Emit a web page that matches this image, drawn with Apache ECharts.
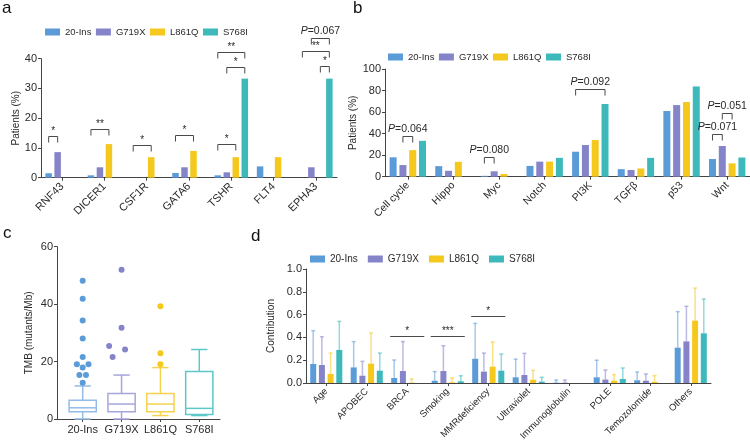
<!DOCTYPE html>
<html><head><meta charset="utf-8">
<script src="https://cdn.jsdelivr.net/npm/echarts@6/dist/echarts.min.js"></script>
<style>html,body{margin:0;padding:0;background:#fff}#chart{width:750px;height:440px}</style>
</head><body><div id="chart"></div>
<script>
// ---------- data ----------
const groups = ['20-Ins', 'G719X', 'L861Q', 'S768I'];

// panel a : genes (% patients)
const genesA = ['RNF43', 'DICER1', 'CSF1R', 'GATA6', 'TSHR', 'FLT4', 'EPHA3'];
const a_20Ins = [1.5, 0.8, 0, 1.6, 0.8, 3.8, 0];
const a_G719X = [8.6, 3.5, 0, 3.5, 1.8, 0, 3.5];
const a_L861Q = [0, 11.3, 6.9, 9.0, 6.9, 6.9, 0];
const a_S768I = [0, 0, 0, 0, 33.3, 0, 33.3];
const ticksA = [0, 10, 20, 30, 40];
// [category, from group, to group, height, label]
const bracketsA = [
  ['RNF43', 0, 1, 14.1, '*'],
  ['DICER1', 0, 2, 16.3, '**'],
  ['CSF1R', 0, 2, 11.0, '*'],
  ['GATA6', 0, 2, 14.3, '*'],
  ['TSHR', 0, 2, 11.3, '*'],
  ['TSHR', 1, 3, 37.1, '*'],
  ['TSHR', 0, 3, 42.4, '**'],
  ['EPHA3', 0, 3, 42.7, '**'],
  ['EPHA3', 2, 3, 37.5, '*'],
  ['EPHA3', 1, 3, 46.9, 'P=0.067']
];

// panel b : pathways (% patients)
const pathwaysB = ['Cell cycle', 'Hippo', 'Myc', 'Notch', 'PI3K', 'TGFβ', 'p53', 'Wnt'];
const b_20Ins = [18, 9.8, 0.8, 10, 23.2, 7, 61, 16.4];
const b_G719X = [10.8, 5.5, 5, 14, 29.4, 6.2, 66.5, 28.5];
const b_L861Q = [24.7, 13.8, 2.5, 14, 34, 7.6, 69.3, 12.4];
const b_S768I = [33.3, 0, 0, 17.5, 67.5, 17.5, 83.8, 17.8];
const ticksB = [0, 20, 40, 60, 80, 100];
const bracketsB = [
  ['Cell cycle', 1, 2, 37.8, 'P=0.064'],
  ['Myc', 0, 1, 18.6, 'P=0.080'],
  ['PI3K', 0, 3, 81.5, 'P=0.092'],
  ['Wnt', 0, 1, 39.5, 'P=0.071'],
  ['Wnt', 1, 2, 58.9, 'P=0.051']
];

// panel c : TMB box plots  [min, Q1, median, Q3, max]
const boxC = [
  [0, 2.55, 3.9, 6.5, 11.5],
  [0, 2.55, 5.2, 8.9, 15.3],
  [1.2, 2.55, 5.2, 8.9, 17.9],
  [1.2, 1.6, 3.7, 16.5, 24.2]
];
const outliers_20Ins = [48.1, 41.9, 34.3, 28, 21.6, 19.1, 19.1, 17.9, 15.3, 15.3, 12.6];
const jitter_20Ins   = [0, 0, 0, 0, 0, -0.15, 0.15, 0, -0.085, 0.085, 0];
const outliers_G719X = [52, 31.8, 25.4, 24.2, 21.6];
const jitter_G719X   = [0, 0, -0.32, 0.09, -0.23];
const outliers_L861Q = [39.3, 22.9, 19.1];
const jitter_L861Q   = [0, 0, 0];
const ticksC = [0, 20, 40, 60];

// panel d : signature contribution (mean, upper error end)
const signaturesD = ['Age', 'APOBEC', 'BRCA', 'Smoking', 'MMRdeficiency', 'Ultraviolet', 'Immunoglobulin', 'POLE', 'Temozolomide', 'Others'];
const d_20Ins     = [0.167, 0.137, 0.044, 0.02, 0.213, 0.05, 0.003, 0.05, 0.024, 0.31];
const d_20Ins_err = [0.459, 0.363, 0.202, 0.1, 0.523, 0.21, 0.026, 0.2, 0.097, 0.626];
const d_G719X     = [0.158, 0.064, 0.105, 0.105, 0.1, 0.07, 0.003, 0.03, 0.02, 0.365];
const d_G719X_err = [0.406, 0.19, 0.363, 0.327, 0.263, 0.26, 0.026, 0.114, 0.08, 0.673];
const d_L861Q     = [0.079, 0.17, 0.003, 0.006, 0.143, 0.029, 0, 0.02, 0.01, 0.547];
const d_L861Q_err = [0.263, 0.439, 0.035, 0.044, 0.36, 0.111, 0, 0.073, 0.065, 0.833];
const d_S768I     = [0.29, 0.108, 0, 0.015, 0.108, 0.012, 0, 0.035, 0, 0.436];
const d_S768I_err = [0.541, 0.263, 0, 0.064, 0.254, 0.05, 0, 0.132, 0, 0.737];
const ticksD = [0, 0.2, 0.4, 0.6, 0.8, 1.0];
const sigD = [
  ['BRCA', 0, 3, 0.415, '*'],
  ['Smoking', 0, 3, 0.415, '***'],
  ['MMRdeficiency', 0, 3, 0.585, '*']
];

// ---------- style ----------
const F = 'Liberation Sans, Arial, sans-serif';
const colors = ['#5B9BD8', '#8584C8', '#F5C81E', '#3DB9BC'];
const boxColors = ['#93BCE8', '#A7A6DB', '#F6D24C', '#5DC8C9'];
const axisCol = '#444';
const textCol = '#2a2a2a';

const BW_A = 6.5, GAP_A = 2.5;
const BW_B = 7, GAP_B = 2.8;
const BW_D = 6, GAP_D = 2.7;

function yAx(gi, ticks, name, nameGap, fmt) {
  return {
    gridIndex: gi, type: 'value', min: ticks[0], max: ticks[ticks.length - 1],
    interval: ticks[1] - ticks[0],
    name: name, nameLocation: 'middle', nameGap: nameGap,
    nameTextStyle: { fontSize: 10, color: textCol, fontFamily: F },
    axisLine: { show: true, onZero: false, lineStyle: { color: axisCol, width: 1 } },
    axisTick: { show: true, length: 3, lineStyle: { color: axisCol } },
    axisLabel: { fontSize: 11, color: textCol, margin: 4, fontFamily: F, formatter: fmt },
    splitLine: { show: false }
  };
}
function xCat(gi, cats, fs) {
  return {
    gridIndex: gi, type: 'category', data: cats,
    axisLine: { show: true, onZero: false, lineStyle: { color: axisCol, width: 1 } },
    axisTick: { show: true, alignWithLabel: true, interval: 0, length: 3, lineStyle: { color: axisCol } },
    axisLabel: { rotate: 45, interval: 0, fontSize: fs, color: textCol, margin: 7, fontFamily: F },
    splitLine: { show: false }
  };
}
function bars(vals, i, gi, bw, gap) {
  return {
    type: 'bar', name: groups[i], xAxisIndex: gi, yAxisIndex: gi, data: vals,
    barWidth: bw, barGap: (gap / bw * 100) + '%',
    itemStyle: { color: colors[i] }, silent: true
  };
}
function labelText(t) {
  if (t.indexOf('P=') === 0) return '{i|P}' + t.slice(1);
  return t;
}
function brackets(list, cats, gi, bw, gap, leg, flat) {
  const pitch = bw + gap;
  return {
    type: 'custom', xAxisIndex: gi, yAxisIndex: gi, clip: false, silent: true, z: 5,
    data: list.map(b => [cats.indexOf(b[0]), b[3]]),
    renderItem: (params, api) => {
      const b = list[params.dataIndex];
      const c = api.coord([api.value(0), api.value(1)]);
      let x1 = c[0] + (b[1] - 1.5) * pitch, x2 = c[0] + (b[2] - 1.5) * pitch;
      if (flat) { x1 -= bw / 2 + 1; x2 += bw / 2 + 1; }
      const y = Math.round(c[1]) + 0.5;
      const isP = b[4].indexOf('P=') === 0;
      const pts = flat ? [[x1, y], [x2, y]] : [[x1, y + leg], [x1, y], [x2, y], [x2, y + leg]];
      return {
        type: 'group', children: [
          { type: 'polyline', shape: { points: pts }, style: { stroke: '#4a4a4a', lineWidth: 1, fill: null } },
          { type: 'text', x: (x1 + x2) / 2, y: y - (isP ? 2 : 0),
            style: { text: labelText(b[4]), align: 'center', verticalAlign: 'bottom',
              fontSize: isP ? 10.5 : 10, fontFamily: F, fill: textCol,
              rich: { i: { fontStyle: 'italic', fontSize: 10.5, fontFamily: F, fill: textCol } } } }
        ]
      };
    }
  };
}
function errBars(means, ups, i) {
  const pitch = BW_D + GAP_D;
  return {
    type: 'custom', xAxisIndex: 3, yAxisIndex: 3, silent: true, z: 1,
    data: means.map((m, k) => [k, m, ups[k]]),
    renderItem: (params, api) => {
      if (api.value(2) <= api.value(1)) return null;
      const p0 = api.coord([api.value(0), api.value(1)]);
      const p1 = api.coord([api.value(0), api.value(2)]);
      const x = p0[0] + (i - 1.5) * pitch;
      const st = { stroke: colors[i], opacity: 0.55, lineWidth: 1.5 };
      return { type: 'group', children: [
        { type: 'line', shape: { x1: x, y1: p0[1], x2: x, y2: p1[1] }, style: st },
        { type: 'line', shape: { x1: x - 2, y1: p1[1], x2: x + 2, y2: p1[1] }, style: st }
      ]};
    }
  };
}

const boxSeries = {
  type: 'custom', xAxisIndex: 2, yAxisIndex: 2, silent: true,
  data: boxC.map((b, i) => [i].concat(b)),
  renderItem: (params, api) => {
    const cat = api.value(0);
    const band = api.size([1, 0])[0];
    const bw = band * 0.7, cw = bw * 0.6;
    const x = api.coord([cat, 0])[0];
    const y = k => api.coord([cat, api.value(k)])[1];
    const col = boxColors[params.dataIndex];
    const st = { stroke: col, lineWidth: 1.5, fill: null };
    return { type: 'group', children: [
      { type: 'line', shape: { x1: x, y1: y(4), x2: x, y2: y(5) }, style: st },
      { type: 'line', shape: { x1: x, y1: y(2), x2: x, y2: y(1) }, style: st },
      { type: 'line', shape: { x1: x - cw / 2, y1: y(5), x2: x + cw / 2, y2: y(5) }, style: st },
      { type: 'line', shape: { x1: x - cw / 2, y1: y(1), x2: x + cw / 2, y2: y(1) }, style: st },
      { type: 'rect', shape: { x: x - bw / 2, y: y(4), width: bw, height: y(2) - y(4) }, style: { stroke: col, lineWidth: 1.5, fill: '#fff' } },
      { type: 'line', shape: { x1: x - bw / 2, y1: y(3), x2: x + bw / 2, y2: y(3) }, style: st }
    ]};
  }
};
const outlierData = [];
[[outliers_20Ins, jitter_20Ins], [outliers_G719X, jitter_G719X], [outliers_L861Q, jitter_L861Q]].forEach((o, g) => {
  o[0].forEach((v, k) => outlierData.push([g, v, o[1][k]]));
});
const outlierSeries = {
  type: 'custom', xAxisIndex: 2, yAxisIndex: 2, silent: true, clip: false, z: 3,
  data: outlierData,
  renderItem: (params, api) => {
    const band = api.size([1, 0])[0];
    const p = api.coord([api.value(0), api.value(1)]);
    return { type: 'circle', shape: { cx: p[0] + api.value(2) * band, cy: p[1], r: 3 },
      style: { fill: colors[api.value(0)] } };
  }
};

const legendBase = (left, top, gap, fs) => ({
  data: groups, left: left, top: top, padding: 0, icon: 'rect',
  itemWidth: 15, itemHeight: 7, itemGap: gap, selectedMode: false,
  textStyle: { fontSize: fs, color: textCol, fontFamily: F }
});
const titleBase = (t, left, top) => ({ text: t, left: left, top: top, padding: 0,
  textStyle: { fontSize: 17, fontWeight: 'normal', color: '#111', fontFamily: F } });

const option = {
  animation: false,
  backgroundColor: '#fff',
  title: [titleBase('a', 2, 0), titleBase('b', 353, 0), titleBase('c', 3, 225), titleBase('d', 251, 228)],
  legend: [legendBase(45, 27, 4.5, 9.5), legendBase(388, 52, 4.5, 9.5), legendBase(310, 254, 10, 10)],
  grid: [
    { left: 41, top: 58.7, width: 296, height: 119, outerBoundsMode: 'none' },
    { left: 385, top: 69, width: 365, height: 107.7, outerBoundsMode: 'none' },
    { left: 57, top: 246.7, width: 163, height: 172.3, outerBoundsMode: 'none' },
    { left: 306, top: 269, width: 405, height: 114, outerBoundsMode: 'none' }
  ],
  xAxis: [
    xCat(0, genesA, 11),
    xCat(1, pathwaysB, 10.5),
    {
      gridIndex: 2, type: 'value', min: -0.661, max: 3.533,
      axisLine: { show: true, onZero: false, lineStyle: { color: axisCol, width: 1 } },
      axisTick: { show: true, length: 3, customValues: [0, 1, 2, 3], lineStyle: { color: axisCol } },
      axisLabel: { customValues: [0, 1, 2, 3], formatter: v => groups[Math.round(v)], fontSize: 11, color: textCol, margin: 5, fontFamily: F },
      splitLine: { show: false }
    },
    xCat(3, signaturesD, 9.5)
  ],
  yAxis: [
    yAx(0, ticksA, 'Patients (%)', 20),
    yAx(1, ticksB, 'Patients (%)', 21),
    yAx(2, ticksC, 'TMB (mutants/Mb)', 23),
    yAx(3, ticksD, 'Contribution', 28, v => v.toFixed(1))
  ],
  series: [
    bars(a_20Ins, 0, 0, BW_A, GAP_A), bars(a_G719X, 1, 0, BW_A, GAP_A),
    bars(a_L861Q, 2, 0, BW_A, GAP_A), bars(a_S768I, 3, 0, BW_A, GAP_A),
    brackets(bracketsA, genesA, 0, BW_A, GAP_A, 6, false),
    bars(b_20Ins, 0, 1, BW_B, GAP_B), bars(b_G719X, 1, 1, BW_B, GAP_B),
    bars(b_L861Q, 2, 1, BW_B, GAP_B), bars(b_S768I, 3, 1, BW_B, GAP_B),
    brackets(bracketsB, pathwaysB, 1, BW_B, GAP_B, 6, false),
    boxSeries, outlierSeries,
    errBars(d_20Ins, d_20Ins_err, 0), errBars(d_G719X, d_G719X_err, 1),
    errBars(d_L861Q, d_L861Q_err, 2), errBars(d_S768I, d_S768I_err, 3),
    bars(d_20Ins, 0, 3, BW_D, GAP_D), bars(d_G719X, 1, 3, BW_D, GAP_D),
    bars(d_L861Q, 2, 3, BW_D, GAP_D), bars(d_S768I, 3, 3, BW_D, GAP_D),
    brackets(sigD, signaturesD, 3, BW_D, GAP_D, 0, true)
  ]
};
const chart = echarts.init(document.getElementById('chart'), null, { renderer: 'canvas' });
chart.setOption(option);
</script>
</body></html>
